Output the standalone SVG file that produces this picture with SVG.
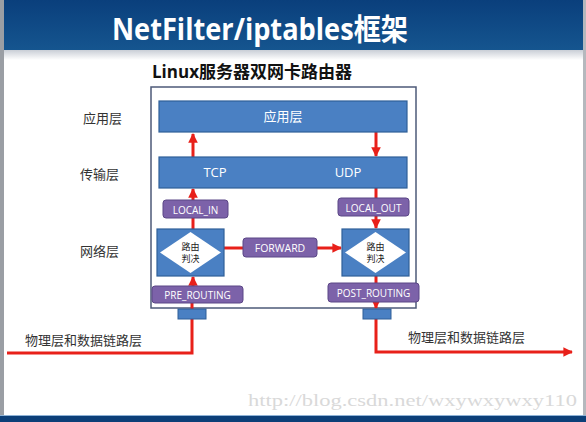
<svg xmlns="http://www.w3.org/2000/svg" width="586" height="422" viewBox="0 0 586 422">
<defs>
<linearGradient id="tg" x1="0" y1="0" x2="0" y2="1">
<stop offset="0" stop-color="#0a3f7c"/>
<stop offset="1" stop-color="#15558f"/>
</linearGradient>
<linearGradient id="sh" x1="0" y1="0" x2="0" y2="1">
<stop offset="0" stop-color="#c9ced6"/>
<stop offset="1" stop-color="#ffffff"/>
</linearGradient>
<marker id="ah" viewBox="0 0 10 10" refX="9" refY="5" markerWidth="3.2" markerHeight="3.2" orient="auto">
<path d="M0,0 L10,5 L0,10 z" fill="#e8201a"/>
</marker>
</defs>
<style>
.bar{fill:#4a80c3;stroke:#2f5f98;stroke-width:1.2}
.pur{fill:#7c62a9;stroke:#5b4786;stroke-width:1}
.wt{fill:#ffffff;font-family:"Open Sans","Noto Sans","Noto Sans CJK SC",sans-serif;text-anchor:middle}
.lbl{fill:#333;font-family:"Noto Sans CJK SC",sans-serif;font-size:13px}
.dia{fill:#ffffff}
.dt{fill:#222;font-family:"Noto Sans CJK SC",sans-serif;font-size:9px;text-anchor:middle}
.rl{stroke:#e8201a;stroke-width:3;fill:none}
.con{fill:#4a80c3;stroke:#2f5f98;stroke-width:1}
</style>
<rect x="0" y="0" width="586" height="422" fill="#ffffff"/>
<rect x="0" y="0" width="586" height="50" fill="url(#tg)"/>
<rect x="0" y="50" width="586" height="10" fill="url(#sh)"/>
<rect x="0" y="0" width="4" height="422" fill="#9a9ea4"/>
<rect x="583" y="0" width="3" height="422" fill="#b5b8bd"/>
<rect x="0" y="415" width="586" height="1" fill="#8fb3d6"/>
<rect x="0" y="416" width="586" height="6" fill="#0c3f78"/>
<text x="112" y="40" font-family="'Open Sans','Noto Sans','Noto Sans CJK SC',sans-serif" font-size="30" font-weight="bold" fill="#ffffff" textLength="296" lengthAdjust="spacingAndGlyphs">NetFilter/iptables框架</text>
<text x="252" y="78" font-family="'Open Sans','Noto Sans','Noto Sans CJK SC',sans-serif" font-size="17" font-weight="bold" fill="#111" text-anchor="middle">Linux服务器双网卡路由器</text>

<g id="layer-labels">
<text class="lbl" x="83" y="123">应用层</text>
<text class="lbl" x="80" y="179">传输层</text>
<text class="lbl" x="80" y="256">网络层</text>
</g>

<g id="server-box">
<rect x="151" y="87" width="265" height="221" fill="#ffffff" stroke="#4d5a78" stroke-width="1.5"/>
</g>

<g id="connectors">
<line class="rl" x1="193" y1="157" x2="193" y2="134" marker-end="url(#ah)"/>
<line class="rl" x1="376" y1="132" x2="376" y2="156" marker-end="url(#ah)"/>
<line class="rl" x1="193" y1="200" x2="193" y2="189" marker-end="url(#ah)"/>
<line class="rl" x1="193" y1="229" x2="193" y2="218"/>
<line class="rl" x1="193" y1="286" x2="193" y2="277" marker-end="url(#ah)"/>
<line class="rl" x1="376" y1="188" x2="376" y2="198"/>
<line class="rl" x1="376" y1="216" x2="376" y2="228" marker-end="url(#ah)"/>
<line class="rl" x1="224" y1="248" x2="243" y2="248"/>
<line class="rl" x1="317" y1="248" x2="341" y2="248" marker-end="url(#ah)"/>
<line class="rl" x1="376" y1="276" x2="376" y2="283"/>
<line class="rl" x1="376" y1="302" x2="376" y2="308" marker-end="url(#ah)"/>
<polyline class="rl" points="7,353 192,353 192,303"/>
<polyline class="rl" points="376,319 376,352 572,352" marker-end="url(#ah)"/>
</g>

<g id="app-layer">
<rect class="bar" x="159" y="101" width="248" height="31"/>
<text class="wt" x="283" y="121" font-size="13">应用层</text>
</g>

<g id="transport-layer">
<rect class="bar" x="159" y="157" width="248" height="31"/>
<text class="wt" x="215" y="177" font-size="13">TCP</text>
<text class="wt" x="348" y="177" font-size="13">UDP</text>
</g>

<g id="local-in">
<rect class="pur" x="163" y="200" width="65" height="18" rx="3"/>
<text class="wt" x="195.5" y="213.5" font-size="10">LOCAL_IN</text>
</g>

<g id="local-out">
<rect class="pur" x="338" y="198" width="71" height="18" rx="3"/>
<text class="wt" x="373.5" y="211.5" font-size="10">LOCAL_OUT</text>
</g>

<g id="router-left">
<rect class="bar" x="157" y="229" width="67" height="47"/>
<polygon class="dia" points="160,252.5 190.5,232 221,252.5 190.5,273"/>
<text class="dt" x="190.5" y="250">路由</text>
<text class="dt" x="190.5" y="262">判决</text>
</g>

<g id="router-right">
<rect class="bar" x="342" y="229" width="67" height="47"/>
<polygon class="dia" points="345,252.5 375.5,232 406,252.5 375.5,273"/>
<text class="dt" x="375.5" y="250">路由</text>
<text class="dt" x="375.5" y="262">判决</text>
</g>

<g id="forward">
<rect class="pur" x="243" y="238" width="74" height="19" rx="3"/>
<text class="wt" x="280" y="252" font-size="10.5">FORWARD</text>
</g>

<g id="pre-routing">
<rect class="pur" x="152" y="286" width="91" height="17" rx="3"/>
<text class="wt" x="197.5" y="298.5" font-size="10">PRE_ROUTING</text>
</g>

<g id="post-routing">
<rect class="pur" x="328" y="283" width="91" height="19" rx="3"/>
<text class="wt" x="373.5" y="296.5" font-size="10">POST_ROUTING</text>
</g>

<g id="nic-left">
<rect class="con" x="178" y="309" width="28" height="10"/>
</g>
<g id="nic-right">
<rect class="con" x="363" y="309" width="28" height="10"/>
</g>

<g id="phys-labels">
<text class="lbl" x="25" y="345">物理层和数据链路层</text>
<text class="lbl" x="408" y="342">物理层和数据链路层</text>
</g>

<text x="248" y="406" font-family="'Liberation Serif','DejaVu Serif',serif" font-size="17" fill="#d9d9d9" textLength="329" lengthAdjust="spacingAndGlyphs">http://blog.csdn.net/wxywxywxy110</text>
</svg>
